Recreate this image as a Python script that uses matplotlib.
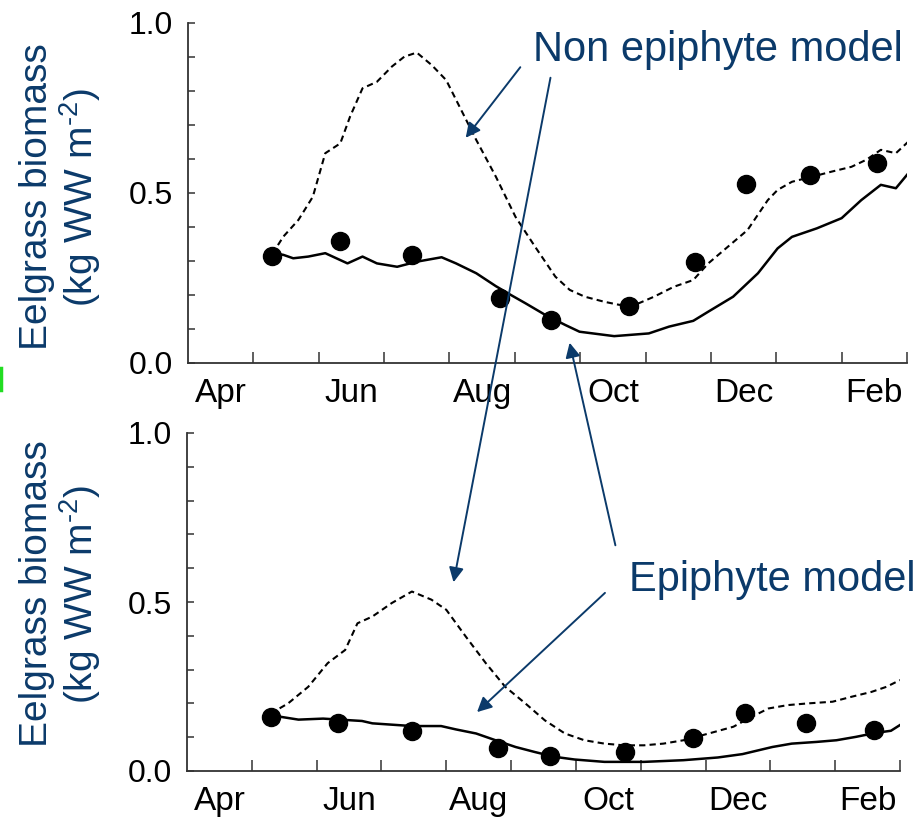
import matplotlib
matplotlib.use("Agg")
import matplotlib.pyplot as plt
from matplotlib.lines import Line2D
import numpy as np

# ── DATA (x = months since 1 April) ───────────────────────────────────────────
MONTH_LABELS = ["Apr", "Jun", "Aug", "Oct", "Dec", "Feb"]
MONTH_LABEL_POS = [0.5, 2.5, 4.5, 6.5, 8.5, 10.5]
MONTH_EDGES = [1, 2, 3, 4, 5, 6, 7, 8, 9, 10, 11]

# top panel: observations
top_obs_x = [1.29, 2.33, 3.43, 4.78, 5.56, 6.74, 7.76, 8.54, 9.51, 10.54]
top_obs_y = [0.315, 0.359, 0.318, 0.191, 0.126, 0.168, 0.297, 0.526, 0.553, 0.588]

# top panel: epiphyte model (solid)
top_epi_x = [1.29, 1.46, 1.61, 1.84, 2.10, 2.44, 2.67, 2.89, 3.20, 3.50, 3.88,
             4.10, 4.41, 4.71, 4.94, 5.16, 5.47, 5.77, 5.99, 6.52, 7.05, 7.36,
             7.73, 7.96, 8.34, 8.72, 9.02, 9.24, 9.62, 10.00, 10.30, 10.60,
             10.83, 11.02]
top_epi_y = [0.324, 0.318, 0.308, 0.313, 0.323, 0.293, 0.313, 0.293, 0.283,
             0.298, 0.311, 0.293, 0.264, 0.226, 0.200, 0.176, 0.141, 0.112,
             0.092, 0.079, 0.087, 0.107, 0.124, 0.151, 0.195, 0.264, 0.337,
             0.371, 0.396, 0.426, 0.479, 0.524, 0.514, 0.558]

# top panel: non epiphyte model (dashed)
top_non_x = [1.29, 1.46, 1.69, 1.91, 2.10, 2.33, 2.48, 2.67, 2.89, 3.12, 3.31,
             3.50, 3.73, 3.95, 4.18, 4.41, 4.71, 5.01, 5.31, 5.62, 5.84, 6.07,
             6.37, 6.60, 6.90, 7.13, 7.43, 7.73, 7.96, 8.26, 8.56, 8.87, 9.02,
             9.24, 9.55, 9.85, 10.15, 10.38, 10.60, 10.83, 11.02]
top_non_y = [0.321, 0.372, 0.421, 0.489, 0.617, 0.646, 0.725, 0.808, 0.827,
             0.872, 0.901, 0.913, 0.876, 0.832, 0.744, 0.656, 0.548, 0.430,
             0.342, 0.254, 0.215, 0.195, 0.180, 0.171, 0.176, 0.195, 0.224,
             0.244, 0.293, 0.342, 0.391, 0.479, 0.509, 0.533, 0.548, 0.563,
             0.577, 0.598, 0.627, 0.617, 0.651]

# bottom panel: observations
bot_obs_x = [1.30, 2.33, 3.47, 4.80, 5.60, 6.76, 7.80, 8.61, 9.55, 10.60]
bot_obs_y = [0.160, 0.142, 0.119, 0.068, 0.044, 0.055, 0.098, 0.172, 0.142, 0.121]

# bottom panel: epiphyte model (solid)
bot_epi_x = [1.29, 1.72, 2.10, 2.70, 2.86, 3.47, 3.92, 4.15, 4.46, 4.76, 5.07,
             5.37, 5.67, 5.98, 6.44, 7.05, 7.66, 8.19, 8.57, 9.03, 9.33, 9.71,
             10.02, 10.32, 10.63, 10.86, 11.00]
bot_epi_y = [0.165, 0.152, 0.155, 0.148, 0.141, 0.133, 0.133, 0.123, 0.111,
             0.091, 0.071, 0.056, 0.042, 0.034, 0.027, 0.027, 0.032, 0.040,
             0.050, 0.071, 0.081, 0.086, 0.091, 0.101, 0.113, 0.119, 0.136]

# bottom panel: non epiphyte model (dashed)
bot_non_x = [1.29, 1.56, 1.87, 2.17, 2.44, 2.63, 2.86, 3.16, 3.47, 3.77, 4.00,
             4.30, 4.61, 4.91, 5.22, 5.52, 5.83, 6.13, 6.44, 6.74, 7.05, 7.35,
             7.66, 8.05, 8.43, 8.66, 8.97, 9.27, 9.58, 9.96, 10.26, 10.56,
             10.79, 11.00]
bot_non_y = [0.170, 0.200, 0.249, 0.319, 0.358, 0.437, 0.457, 0.497, 0.531,
             0.507, 0.477, 0.398, 0.319, 0.249, 0.200, 0.150, 0.111, 0.091,
             0.081, 0.076, 0.076, 0.081, 0.091, 0.111, 0.131, 0.155, 0.185,
             0.195, 0.200, 0.205, 0.220, 0.234, 0.249, 0.269]

# ── STYLE ─────────────────────────────────────────────────────────────────────
NAVY = "#0B3A6A"
AXIS = "#333333"
plt.rcParams["font.family"] = ["Liberation Sans", "DejaVu Sans"]
plt.rcParams["mathtext.fontset"] = "custom"
plt.rcParams["mathtext.rm"] = "Liberation Sans"
plt.rcParams["mathtext.it"] = "Liberation Sans:italic"

W, H = 923, 818
fig = plt.figure(figsize=(W / 100, H / 100), dpi=100)
fig.patch.set_facecolor("white")


def px_box(x0, x1, y_top, y_bot):
    """Axes rectangle from pixel coordinates."""
    return [x0 / W, 1 - y_bot / H, (x1 - x0) / W, (y_bot - y_top) / H]


def style_axes(ax):
    ax.set_xlim(0, 11)
    ax.set_ylim(0, 1.0)
    for side in ("top", "right"):
        ax.spines[side].set_visible(False)
    for side in ("left", "bottom"):
        ax.spines[side].set_color(AXIS)
        ax.spines[side].set_linewidth(1.3)
    # month boundaries as unlabeled ticks, labels centred between them
    ax.set_xticks(MONTH_EDGES)
    ax.set_xticklabels([])
    ax.set_xticks(MONTH_LABEL_POS, minor=True)
    ax.set_xticklabels(MONTH_LABELS, minor=True)
    ax.tick_params(axis="x", which="major", direction="in", length=8,
                   width=1.1, color=AXIS)
    ax.tick_params(axis="x", which="minor", length=0, pad=11,
                   labelsize=24, labelcolor="black")
    ax.set_yticks([0.0, 0.5, 1.0])
    ax.set_yticklabels(["0.0", "0.5", "1.0"])
    ax.set_yticks(np.arange(0.1, 1.0, 0.1), minor=True)
    ax.tick_params(axis="y", which="both", direction="in", length=5,
                   width=1.1, color=AXIS, pad=11, labelsize=23,
                   labelcolor="black")


def draw_panel(ax, obs_x, obs_y, epi_x, epi_y, non_x, non_y):
    ax.plot(non_x, non_y, color="black", lw=1.5, ls=(0, (3, 2)), zorder=2)
    ax.plot(epi_x, epi_y, color="black", lw=1.8, zorder=2)
    ax.plot(obs_x, obs_y, "o", color="black", ms=13, zorder=3)
    style_axes(ax)


ax_top = fig.add_axes(px_box(188, 907, 23, 363))
draw_panel(ax_top, top_obs_x, top_obs_y, top_epi_x, top_epi_y,
           top_non_x, top_non_y)

ax_bot = fig.add_axes(px_box(187, 900, 433, 771))
draw_panel(ax_bot, bot_obs_x, bot_obs_y, bot_epi_x, bot_epi_y,
           bot_non_x, bot_non_y)

# ── Y LABELS ──────────────────────────────────────────────────────────────────
ylabel = "Eelgrass biomass\n(kg WW m$^{\u20102}$)"
for yc in (197, 594):
    fig.text(61 / W, 1 - yc / H, ylabel, rotation=90, ha="center",
             va="center", fontsize=28, color=NAVY, multialignment="center",
             linespacing=1.05)

# ── ANNOTATIONS ───────────────────────────────────────────────────────────────
fig.text(718 / W, 1 - 50 / H, "Non epiphyte model", ha="center",
         va="center", fontsize=30, color=NAVY)
fig.text(772 / W, 1 - 580 / H, "Epiphyte model", ha="center",
         va="center", fontsize=30, color=NAVY)

arrows = [
    ((522, 65), (464, 140)),
    ((551, 75), (453, 585)),
    ((616, 548), (569, 340)),
    ((607, 591), (475, 714)),
]
for (x0, y0), (x1, y1) in arrows:
    fig.patches.append(matplotlib.patches.FancyArrowPatch(
        (x0 / W, 1 - y0 / H), (x1 / W, 1 - y1 / H),
        transform=fig.transFigure, arrowstyle="-|>", mutation_scale=22,
        color=NAVY, lw=1.4, zorder=10))

# small green mark at the left edge
fig.add_artist(Line2D([1 / W, 1 / W], [1 - 368 / H, 1 - 390 / H],
                      transform=fig.transFigure, color="#22DD22", lw=2.5))

fig.savefig("out.png", dpi=100, facecolor="white")
